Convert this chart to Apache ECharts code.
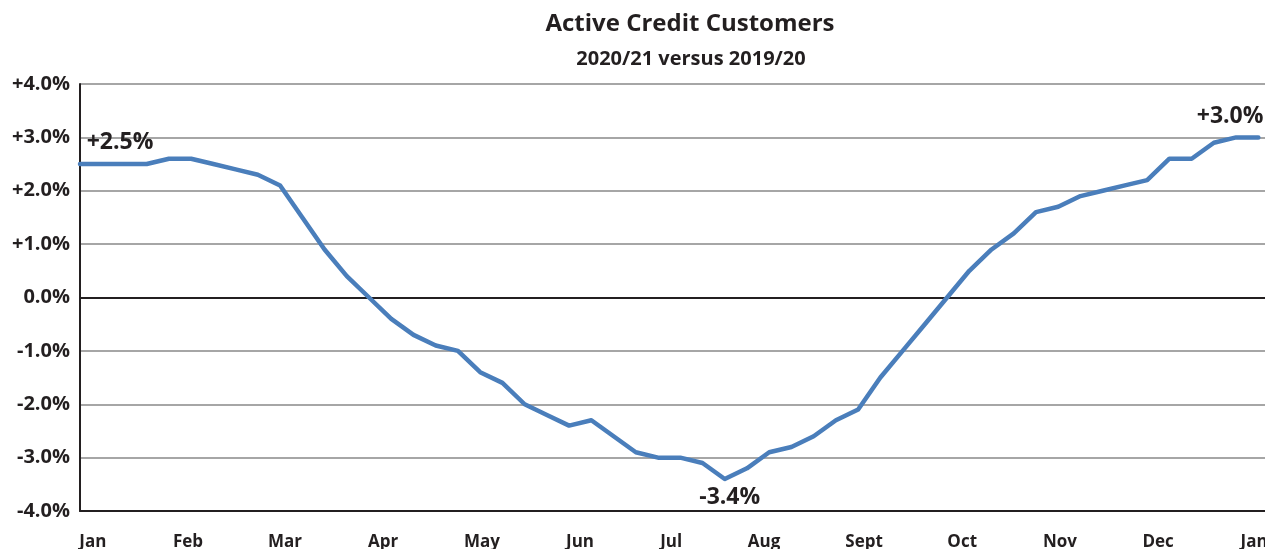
<!DOCTYPE html>
<html>
<head>
<meta charset="utf-8">
<title>Active Credit Customers</title>
<script src="https://cdn.jsdelivr.net/npm/echarts@6/dist/echarts.min.js"></script>
<style>
  html, body { margin: 0; padding: 0; background: #ffffff; }
  #chart { width: 1265px; height: 549px; }
</style>
</head>
<body>
<div id="chart"></div>
<script>
// Weekly year-on-year change in active credit customers (%), week 0 = early January
const customerChange = [
  2.5, 2.5, 2.5, 2.5, 2.6, 2.6, 2.5, 2.4, 2.3, 2.1,
  1.5, 0.9, 0.4, 0.0, -0.4, -0.7, -0.9, -1.0, -1.4, -1.6,
  -2.0, -2.2, -2.4, -2.3, -2.6, -2.9, -3.0, -3.0, -3.1, -3.4,
  -3.2, -2.9, -2.8, -2.6, -2.3, -2.1, -1.5, -1.0, -0.5, 0.0,
  0.5, 0.9, 1.2, 1.6, 1.7, 1.9, 2.0, 2.1, 2.2, 2.6,
  2.6, 2.9, 3.0, 3.0
];

// Month labels and where they sit along the week axis
const monthNames = ['Jan', 'Feb', 'Mar', 'Apr', 'May', 'Jun', 'Jul', 'Aug', 'Sept', 'Oct', 'Nov', 'Dec', 'Jan'];
const monthPos = [0.58, 4.86, 9.22, 13.63, 18.08, 22.49, 26.59, 30.77, 35.27, 39.68, 44.08, 48.49, 52.81];

// Points that carry a value callout
const calloutStart = 0;
const calloutLow = 29;
const calloutEnd = 52;

const TEXT = '#231f20';
const LINE = '#4a7ebb';
const FONT = '"Open Sans", "Noto Sans", sans-serif';

function pct(v) {
  const s = Math.abs(v) < 1e-9 ? '0.0' : v.toFixed(1);
  return (v > 1e-9 ? '+' : '') + s + '%';
}

const callouts = {};
callouts[calloutStart] = { position: 'top', distance: 10, offset: [40, 0] };
callouts[calloutLow] = { position: 'bottom', distance: 6, offset: [5, 0] };
callouts[calloutEnd] = { position: 'top', distance: 9, offset: [-6, 0] };

const seriesData = customerChange.map((v, i) => {
  const item = { value: [i, v] };
  if (callouts[i]) {
    item.label = Object.assign({
      show: true,
      formatter: () => pct(v),
      color: TEXT,
      fontFamily: FONT,
      fontWeight: 'bold',
      fontSize: 23
    }, callouts[i]);
  }
  return item;
});

const xMax = 53.3;

const chart = echarts.init(document.getElementById('chart'), null, { renderer: 'canvas' });

chart.setOption({
  animation: false,
  backgroundColor: '#ffffff',
  title: [
    {
      text: 'Active Credit Customers',
      left: 685, top: 7, textAlign: 'center',
      textStyle: { fontFamily: FONT, fontWeight: 'bold', fontSize: 24, color: TEXT }
    },
    {
      text: '2020/21 versus 2019/20',
      left: 686, top: 44, textAlign: 'center',
      textStyle: { fontFamily: FONT, fontWeight: 'bold', fontSize: 20, color: TEXT }
    }
  ],
  grid: { left: 80, right: 0, top: 84, bottom: 38, containLabel: false, outerBoundsMode: 'none' },
  xAxis: [
    {
      // zero reference line
      type: 'value', min: 0, max: xMax, position: 'bottom',
      axisLine: { show: true, onZero: true, lineStyle: { color: TEXT, width: 2 } },
      axisTick: { show: false },
      axisLabel: { show: false },
      splitLine: { show: false }
    },
    {
      // month labels along the bottom edge
      type: 'value', min: 0, max: xMax, position: 'bottom',
      axisLine: { show: true, onZero: false, lineStyle: { color: TEXT, width: 2 } },
      axisTick: { show: false },
      splitLine: { show: false },
      axisLabel: {
        customValues: monthPos,
        formatter: (v) => {
          let best = 0;
          monthPos.forEach((p, i) => { if (Math.abs(p - v) < Math.abs(monthPos[best] - v)) best = i; });
          return monthNames[best];
        },
        color: TEXT, fontFamily: FONT, fontWeight: 'bold', fontSize: 17,
        margin: 31, verticalAlign: 'middle'
      }
    }
  ],
  yAxis: {
    type: 'value', min: -4, max: 4, interval: 1,
    axisLine: { show: true, lineStyle: { color: TEXT, width: 2 } },
    axisTick: { show: false },
    axisLabel: {
      formatter: pct,
      color: TEXT, fontFamily: FONT, fontWeight: 'bold', fontSize: 20, margin: 10
    },
    splitLine: { show: true, lineStyle: { color: '#a6a6a6', width: 2 } }
  },
  series: [
    {
      type: 'line',
      xAxisIndex: 0,
      data: seriesData,
      showSymbol: true,
      symbol: 'circle',
      symbolSize: 1,
      lineStyle: { color: LINE, width: 4.5, join: 'round', cap: 'round' },
      itemStyle: { color: LINE },
      z: 5
    }
  ]
});
</script>
</body>
</html>
